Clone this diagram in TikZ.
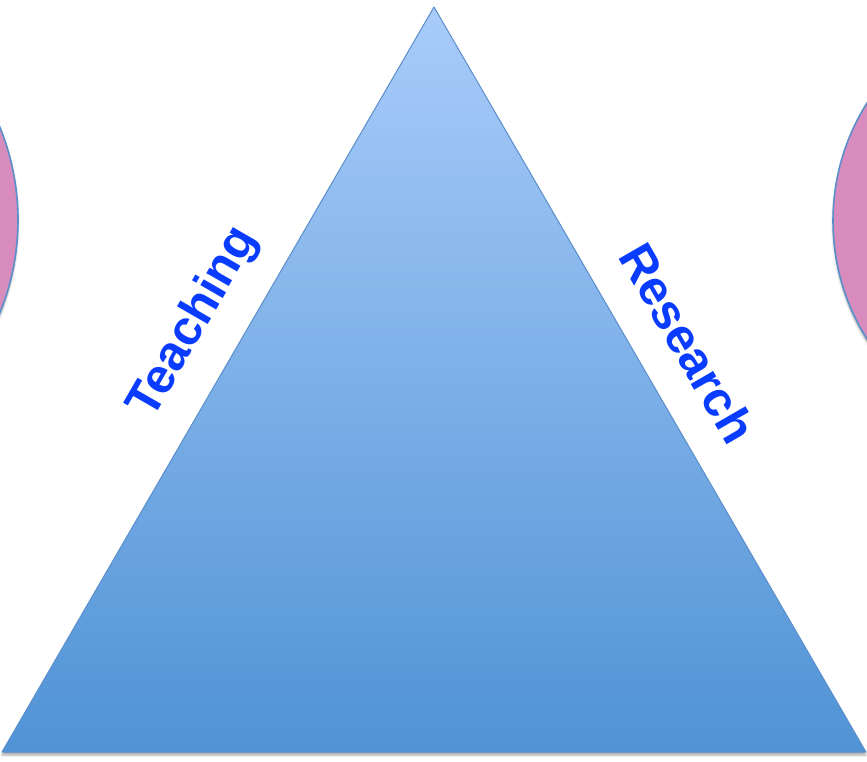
\documentclass[tikz,border=0pt]{standalone}
\usepackage{fontspec}
\setmainfont{Liberation Sans}
\usetikzlibrary{shadows.blur}
\definecolor{tritop}{HTML}{A9CCFA}
\definecolor{tribot}{HTML}{5093D5}
\definecolor{edgeblue}{HTML}{5A8FCB}
\definecolor{pinkfill}{HTML}{D78CBD}
\definecolor{labelblue}{HTML}{0A3CFF}
\tikzset{
  shapeshadow/.style={blur shadow={shadow xshift=0pt, shadow yshift=-3pt, shadow blur steps=6, shadow opacity=35}},
  bubble/.style={fill=pinkfill, draw=edgeblue, line width=1.6pt, shapeshadow},
  sidelabel/.style={text=labelblue, font=\bfseries\fontsize{49}{49}\selectfont, inner sep=0pt}
}
\begin{document}
\begin{tikzpicture}[x=1pt,y=-1pt]
\useasboundingbox (0,0) rectangle (867,761);
\clip (0,0) rectangle (867,761);
% side circles
\path[bubble] (-228,220) circle[radius=246];
\path[bubble] (1055,221) circle[radius=222];
% triangle
\path[shapeshadow, top color=tritop, bottom color=tribot, draw=edgeblue, line width=1pt, line join=round]
  (434,7) -- (866,752) -- (2,752) -- cycle;
% labels
\node[sidelabel, rotate=60] (teach) at (194,323) {Teaching};
\node[sidelabel, rotate=-60] (research) at (688,343) {Research};
\end{tikzpicture}
\end{document}
